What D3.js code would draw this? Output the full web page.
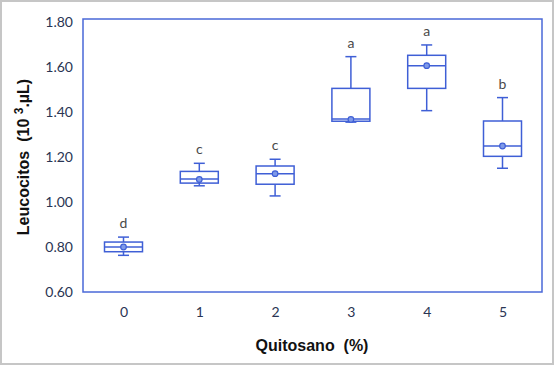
<!DOCTYPE html>
<html><head><meta charset="utf-8">
<script src="https://cdn.jsdelivr.net/npm/d3@7"></script>
<style>body{margin:0;background:#fff}svg{display:block}</style>
</head><body>
<script>
const categories = ["0","1","2","3","4","5"];
const whiskerLow  = [0.763, 1.072, 1.027, 1.355, 1.406, 1.150];
const q1          = [0.779, 1.084, 1.079, 1.359, 1.505, 1.203];
const median      = [0.800, 1.102, 1.126, 1.369, 1.606, 1.249];
const q3          = [0.822, 1.136, 1.160, 1.505, 1.652, 1.360];
const whiskerHigh = [0.844, 1.172, 1.190, 1.646, 1.698, 1.464];
const means       = [0.800, 1.100, 1.126, 1.367, 1.606, 1.249];
const letters     = ["d","c","c","a","a","b"];
const yTicks      = [0.6, 0.8, 1.0, 1.2, 1.4, 1.6, 1.8];

(function(){
const W = 554, H = 365;
const svg = d3.select("body").append("svg").attr("width", W).attr("height", H);
svg.append("rect").attr("x",1).attr("y",1).attr("width",W-2).attr("height",H-2)
  .attr("fill","#fff").attr("stroke","#c6c6c6").attr("stroke-width",2);

const pL = 83, pR = 542, pT = 19, pB = 292;
const y = d3.scaleLinear().domain([0.6, 1.8]).range([pB, 22]);
const x = d3.scalePoint().domain(categories).range([123.5, 502.5]);
const blue = "#3f5fd6";
const boxW = 38, capW = 11;

svg.append("rect").attr("x",pL).attr("y",pT).attr("width",pR-pL).attr("height",pB-pT)
  .attr("fill","none").attr("stroke","#4a68d8").attr("stroke-width",1.5);

const yAxis = d3.axisLeft(y).tickValues(yTicks).tickFormat(d3.format(".2f")).tickSize(0).tickPadding(10);
const gy = svg.append("g").attr("transform",`translate(${pL},0)`).call(yAxis);
gy.select(".domain").remove();
gy.selectAll("text").attr("font-family","Lato").attr("font-size",14).attr("fill","#2a3553");

const xAxis = d3.axisBottom(x).tickSize(0).tickPadding(15);
const gx = svg.append("g").attr("transform",`translate(0,${pB})`).call(xAxis);
gx.select(".domain").remove();
gx.selectAll("text").attr("font-family","Lato").attr("font-size",14).attr("fill","#2a3553");

const data = categories.map((c,i)=>({c, lo:whiskerLow[i], q1:q1[i], med:median[i], q3:q3[i], hi:whiskerHigh[i], mean:means[i], letter:letters[i]}));
const g = svg.append("g").attr("stroke",blue).attr("stroke-width",1.5).attr("fill","none");
data.forEach(d=>{
  const cx = x(d.c);
  g.append("line").attr("x1",cx).attr("x2",cx).attr("y1",y(d.hi)).attr("y2",y(d.q3));
  g.append("line").attr("x1",cx).attr("x2",cx).attr("y1",y(d.q1)).attr("y2",y(d.lo));
  g.append("line").attr("x1",cx-capW/2).attr("x2",cx+capW/2).attr("y1",y(d.hi)).attr("y2",y(d.hi));
  g.append("line").attr("x1",cx-capW/2).attr("x2",cx+capW/2).attr("y1",y(d.lo)).attr("y2",y(d.lo));
  g.append("rect").attr("x",cx-boxW/2).attr("y",y(d.q3)).attr("width",boxW).attr("height",y(d.q1)-y(d.q3));
  g.append("line").attr("x1",cx-boxW/2).attr("x2",cx+boxW/2).attr("y1",y(d.med)).attr("y2",y(d.med));
  g.append("circle").attr("cx",cx).attr("cy",y(d.mean)).attr("r",2.8).attr("fill","#7f9ae8").attr("stroke-width",1.2);
  svg.append("text").attr("x",cx).attr("y",y(d.hi)-9).attr("text-anchor","middle")
    .attr("font-family","Lato").attr("font-size",14).attr("fill","#4a4a4a").text(d.letter);
});

svg.append("text").attr("x",312).attr("y",351).attr("text-anchor","middle")
  .attr("font-family","Liberation Sans").attr("font-weight","bold").attr("font-size",16).attr("fill","#111")
  .attr("xml:space","preserve").text("Quitosano  (%)");

const yt = svg.append("text").attr("transform","translate(29,157) rotate(-90)").attr("text-anchor","middle")
  .attr("font-family","Liberation Sans").attr("font-weight","bold").attr("font-size",16).attr("fill","#111")
  .attr("xml:space","preserve");
yt.append("tspan").text("Leucocitos  (10 ");
yt.append("tspan").attr("dy",-6).attr("font-size",12).text("3");
yt.append("tspan").attr("dy",6).text(".µL)");
})();
</script>
</body></html>
